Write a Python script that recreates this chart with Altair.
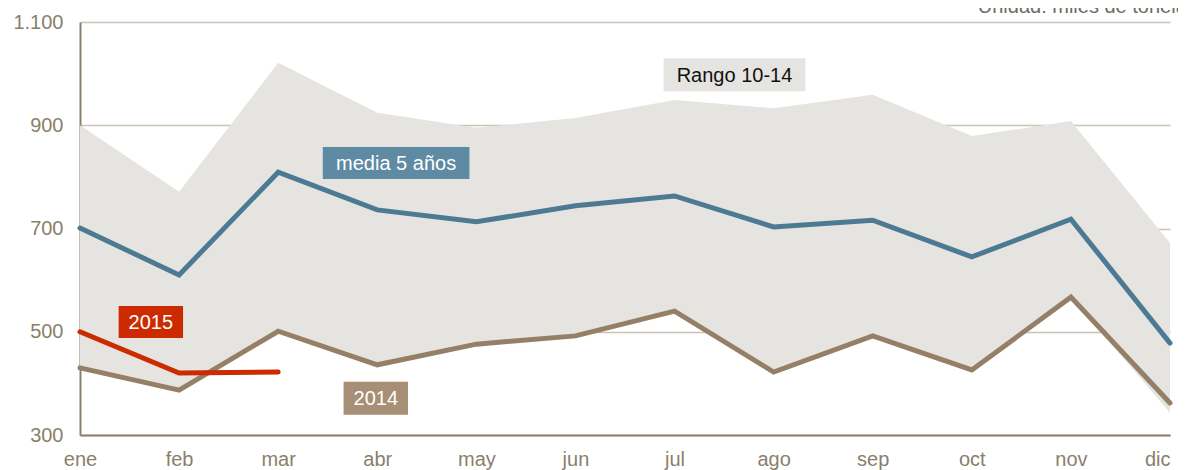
import altair as alt
import pandas as pd

months = ["ene", "feb", "mar", "abr", "may", "jun", "jul", "ago", "sep", "oct", "nov", "dic"]
rango_max = [900, 771, 1021, 924, 895, 914, 949, 933, 959, 879, 908, 672]
rango_min = [430, 387, 501, 436, 476, 492, 540, 422, 492, 426, 567, 343]
media5 = [701, 610, 809, 736, 713, 744, 763, 703, 716, 645, 718, 478]
serie2014 = [430, 387, 501, 436, 476, 492, 540, 422, 492, 426, 567, 362]
serie2015 = [500, 420, 422]

label_text = ["Rango 10-14", "media 5 años", "2015", "2014"]
label_x1 = [5.89, 2.45, 0.39, 2.66]
label_x2 = [7.32, 3.93, 1.04, 3.31]
label_y1 = [1030, 858, 550, 403]
label_y2 = [966, 796, 488, 339]
label_fill = ["#e6e4e0", "#5e8aa4", "#cc2a00", "#a68f74"]
label_color = ["#111111", "#ffffff", "#ffffff", "#ffffff"]

FONT = "Liberation Sans"
AXIS_COLOR = "#8a7f6b"

idx = list(range(12))
df = pd.DataFrame({"i": idx, "mes": months, "lo": rango_min, "hi": rango_max,
                   "media": media5, "y14": serie2014})
df15 = pd.DataFrame({"i": idx[:3], "mes": months[:3], "v": serie2015})
lab = pd.DataFrame({
    "t": label_text, "x1": label_x1, "x2": label_x2, "y1": label_y1, "y2": label_y2,
    "fill": label_fill, "tc": label_color,
})
lab["xc"] = (lab["x1"] + lab["x2"]) / 2
lab["yc"] = (lab["y1"] + lab["y2"]) / 2

label_expr = "[" + ",".join("'%s'" % m for m in months) + "][datum.value]"

xscale = alt.Scale(domain=[0, 11], nice=False, zero=False)
yscale = alt.Scale(domain=[300, 1100], nice=False, zero=False)

xaxis = alt.Axis(values=idx, labelExpr=label_expr, title=None, ticks=False, grid=False,
                 labelFlush=False, labelOverlap=False, labelBound=False,
                 labelAlign={"condition": {"test": "datum.value == 11", "value": "right"}, "value": "center"},
                 labelFont=FONT, labelFontSize=20, labelColor=AXIS_COLOR,
                 labelPadding=14, domainColor=AXIS_COLOR, domainWidth=2)
yaxis = alt.Axis(values=[300, 500, 700, 900, 1100],
                 labelExpr="replace(format(datum.value, ','), ',', '.')",
                 title=None, ticks=False, grid=True, gridColor="#c9c4b6", gridWidth=1.5,
                 labelFont=FONT, labelFontSize=20, labelColor=AXIS_COLOR,
                 labelPadding=17, domainColor=AXIS_COLOR, domainWidth=2)

base = alt.Chart(df)

area = base.mark_area(color="#e6e4e0", opacity=1).encode(
    x=alt.X("i:Q", scale=xscale, axis=xaxis),
    y=alt.Y("lo:Q", scale=yscale, axis=yaxis),
    y2="hi:Q",
)

line_media = base.mark_line(color="#4d7a93", strokeWidth=5, strokeJoin="miter", strokeCap="round").encode(
    x="i:Q", y="media:Q")
line_14 = base.mark_line(color="#958067", strokeWidth=5, strokeJoin="miter", strokeCap="round").encode(
    x="i:Q", y="y14:Q")
line_15 = alt.Chart(df15).mark_line(color="#cc2a00", strokeWidth=5, strokeJoin="miter", strokeCap="round").encode(
    x="i:Q", y="v:Q")

boxes = alt.Chart(lab).mark_rect().encode(
    x="x1:Q", x2="x2:Q", y="y1:Q", y2="y2:Q",
    color=alt.Color("fill:N", scale=None),
)
texts = alt.Chart(lab).mark_text(font=FONT, fontSize=20, align="center", baseline="middle", dy=1).encode(
    x="xc:Q", y="yc:Q", text="t:N",
    color=alt.Color("tc:N", scale=None),
)

unit = alt.Chart(pd.DataFrame({"t": ["Unidad: miles de toneladas"], "x": [9.06]})).mark_text(
    font=FONT, fontSize=20, align="left", baseline="alphabetic", color="#6f6a60"
).encode(x="x:Q", y=alt.value(-9), text="t:N")

chart = alt.layer(area, line_media, line_14, line_15, boxes, texts, unit).properties(
    width=1090, height=413,
    autosize=alt.AutoSizeParams(type="none"),
    padding={"left": 72, "top": 14, "right": 8, "bottom": 35},
).configure_view(stroke=None)

chart.save("out.html", embed_options={"renderer": "svg", "actions": False})
